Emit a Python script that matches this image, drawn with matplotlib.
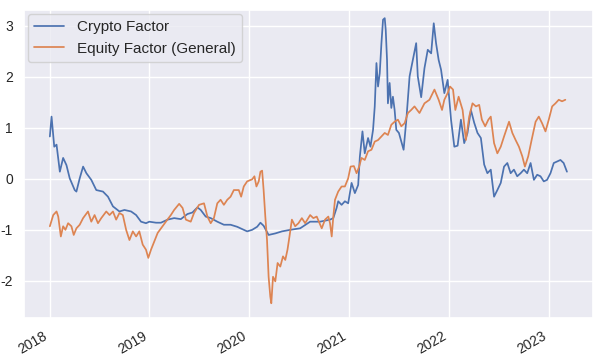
import matplotlib
matplotlib.use("Agg")
import matplotlib.pyplot as plt
import matplotlib.dates as mdates
import numpy as np
import pandas as pd
import seaborn as sns

# years elapsed since 2018-01-01
crypto_t = [0.003, 0.020, 0.047, 0.070, 0.103, 0.136, 0.169, 0.202, 0.252, 0.269,
            0.302, 0.336, 0.369, 0.418, 0.468, 0.535, 0.585, 0.635, 0.700, 0.750,
            0.817, 0.867, 0.916, 0.966, 0.999, 1.066, 1.116, 1.182, 1.248, 1.315,
            1.381, 1.431, 1.481, 1.514, 1.564, 1.614, 1.680, 1.746, 1.813, 1.879,
            1.979, 2.029, 2.079, 2.112, 2.144, 2.194, 2.261, 2.328, 2.410, 2.510,
            2.610, 2.709, 2.809, 2.842, 2.875, 2.891, 2.925, 2.958, 2.991, 3.025,
            3.058, 3.091, 3.108, 3.134, 3.157, 3.190, 3.214, 3.240, 3.257, 3.274,
            3.290, 3.307, 3.324, 3.340, 3.357, 3.367, 3.380, 3.389, 3.406, 3.423,
            3.439, 3.456, 3.473, 3.499, 3.523, 3.546, 3.573, 3.606, 3.638, 3.672,
            3.688, 3.722, 3.755, 3.788, 3.822, 3.848, 3.871, 3.897, 3.921, 3.954,
            3.987, 4.021, 4.054, 4.087, 4.120, 4.153, 4.186, 4.220, 4.253, 4.286,
            4.320, 4.353, 4.385, 4.419, 4.452, 4.485, 4.519, 4.552, 4.585, 4.618,
            4.651, 4.684, 4.718, 4.751, 4.784, 4.818, 4.851, 4.884, 4.917, 4.950,
            4.983, 5.017, 5.050, 5.083, 5.117, 5.149, 5.182]
crypto_v = [0.83, 1.22, 0.63, 0.67, 0.14, 0.41, 0.27, 0.01, -0.22, -0.25,
            0.01, 0.24, 0.11, -0.02, -0.22, -0.25, -0.35, -0.54, -0.64, -0.61,
            -0.64, -0.71, -0.84, -0.87, -0.84, -0.86, -0.86, -0.80, -0.77, -0.79,
            -0.69, -0.66, -0.56, -0.61, -0.74, -0.77, -0.84, -0.90, -0.90, -0.94,
            -1.03, -1.00, -0.94, -0.86, -0.92, -1.10, -1.07, -1.03, -1.00, -0.97,
            -0.84, -0.84, -0.80, -0.77, -0.57, -0.44, -0.51, -0.44, -0.48, -0.08,
            -0.28, -0.12, 0.44, 0.93, 0.50, 0.80, 0.63, 0.96, 1.42, 2.27,
            1.81, 2.07, 2.66, 3.12, 3.15, 2.92, 2.33, 1.48, 1.88, 1.39,
            1.61, 1.35, 0.96, 0.90, 0.73, 0.57, 1.15, 2.01, 2.33, 2.66,
            2.01, 1.60, 2.17, 2.53, 2.46, 3.05, 2.66, 2.33, 2.14, 1.68,
            1.94, 1.16, 0.63, 0.65, 1.16, 0.70, 0.90, 1.35, 1.10, 0.90,
            0.80, 0.28, 0.11, 0.18, -0.35, -0.22, -0.08, 0.24, 0.31, 0.11,
            0.18, 0.05, 0.11, 0.18, 0.11, 0.31, -0.02, 0.08, 0.05, -0.05,
            -0.02, 0.11, 0.31, 0.34, 0.37, 0.31, 0.14]

equity_t = [0.003, 0.037, 0.070, 0.087, 0.113, 0.136, 0.159, 0.186, 0.219, 0.242,
            0.269, 0.302, 0.336, 0.385, 0.418, 0.451, 0.485, 0.518, 0.568, 0.601,
            0.635, 0.667, 0.700, 0.734, 0.767, 0.800, 0.834, 0.867, 0.899, 0.933,
            0.966, 0.989, 1.016, 1.049, 1.083, 1.116, 1.165, 1.215, 1.248, 1.298,
            1.332, 1.365, 1.414, 1.447, 1.497, 1.547, 1.581, 1.614, 1.646, 1.680,
            1.713, 1.746, 1.780, 1.813, 1.846, 1.895, 1.919, 1.945, 1.979, 2.029,
            2.052, 2.072, 2.095, 2.112, 2.129, 2.144, 2.161, 2.178, 2.194, 2.211,
            2.221, 2.238, 2.261, 2.284, 2.311, 2.338, 2.361, 2.383, 2.403, 2.427,
            2.460, 2.493, 2.527, 2.560, 2.610, 2.642, 2.676, 2.726, 2.759, 2.792,
            2.809, 2.826, 2.842, 2.859, 2.891, 2.925, 2.958, 2.991, 3.015, 3.048,
            3.075, 3.101, 3.124, 3.157, 3.190, 3.224, 3.257, 3.290, 3.324, 3.357,
            3.389, 3.423, 3.456, 3.489, 3.523, 3.556, 3.589, 3.622, 3.655, 3.705,
            3.755, 3.805, 3.855, 3.897, 3.931, 3.954, 3.987, 4.011, 4.041, 4.064,
            4.097, 4.137, 4.170, 4.203, 4.236, 4.270, 4.303, 4.330, 4.363, 4.395,
            4.419, 4.452, 4.485, 4.519, 4.552, 4.602, 4.635, 4.668, 4.701, 4.735,
            4.761, 4.794, 4.828, 4.868, 4.900, 4.933, 4.967, 5.000, 5.034, 5.067,
            5.100, 5.133, 5.166]
equity_v = [-0.93, -0.71, -0.64, -0.74, -1.13, -0.93, -1.00, -0.87, -0.93, -1.10,
            -0.97, -0.90, -0.77, -0.64, -0.84, -0.71, -0.87, -0.77, -0.64, -0.71,
            -0.64, -0.80, -0.67, -0.71, -1.00, -1.20, -1.03, -1.13, -1.03, -1.29,
            -1.39, -1.55, -1.39, -1.23, -1.06, -0.97, -0.84, -0.71, -0.61, -0.49,
            -0.57, -0.80, -0.84, -0.67, -0.51, -0.48, -0.74, -0.87, -0.77, -0.48,
            -0.41, -0.51, -0.41, -0.35, -0.22, -0.22, -0.35, -0.15, -0.05, -0.01,
            0.05, -0.15, -0.05, 0.14, 0.16, -0.22, -0.74, -1.20, -1.92, -2.31,
            -2.44, -1.92, -2.01, -1.65, -1.72, -1.52, -1.59, -1.39, -1.13, -0.80,
            -0.93, -0.87, -0.77, -0.87, -0.71, -0.77, -0.74, -0.97, -0.80, -0.74,
            -0.87, -1.13, -0.74, -0.41, -0.25, -0.15, -0.15, 0.01, 0.24, 0.25,
            0.11, 0.24, 0.41, 0.37, 0.54, 0.57, 0.73, 0.76, 0.83, 0.90,
            0.86, 1.06, 1.12, 1.16, 1.03, 1.09, 1.29, 1.35, 1.42, 1.29,
            1.48, 1.55, 1.75, 1.55, 1.35, 1.55, 1.68, 1.81, 1.75, 1.35,
            1.61, 1.35, 0.76, 1.22, 1.48, 1.42, 1.45, 1.16, 1.03, 1.16,
            1.22, 0.70, 0.50, 0.63, 0.83, 1.12, 0.90, 0.76, 0.63, 0.44,
            0.24, 0.44, 0.76, 1.12, 1.22, 1.09, 0.93, 1.16, 1.42, 1.48,
            1.55, 1.52, 1.55]

start = pd.Timestamp("2018-01-01")

def to_dates(years):
    return start + pd.to_timedelta(np.array(years) * 365.25, unit="D")

sns.set_theme(style="darkgrid")
plt.rcParams['font.family'] = ['Liberation Sans', 'DejaVu Sans']
plt.rcParams['axes.unicode_minus'] = False

fig, ax = plt.subplots(figsize=(6, 3.57), dpi=100)
ax.plot(to_dates(crypto_t), crypto_v, color="#4C72B0", lw=1.25, label="Crypto Factor")
ax.plot(to_dates(equity_t), equity_v, color="#DD8452", lw=1.25, label="Equity Factor (General)")

ax.set_ylim(-2.73, 3.31)
ax.set_yticks([-2, -1, 0, 1, 2, 3])
ax.xaxis.set_major_locator(mdates.YearLocator())
ax.xaxis.set_major_formatter(mdates.DateFormatter("%Y"))
ax.tick_params(labelsize=10, pad=2)
for lab in ax.get_xticklabels():
    lab.set_rotation(30)
    lab.set_ha("right")

ax.legend(loc="upper left", fontsize=11, borderaxespad=0.25)
fig.subplots_adjust(left=0.04, right=0.988, top=0.972, bottom=0.109)
fig.savefig("out.png")
